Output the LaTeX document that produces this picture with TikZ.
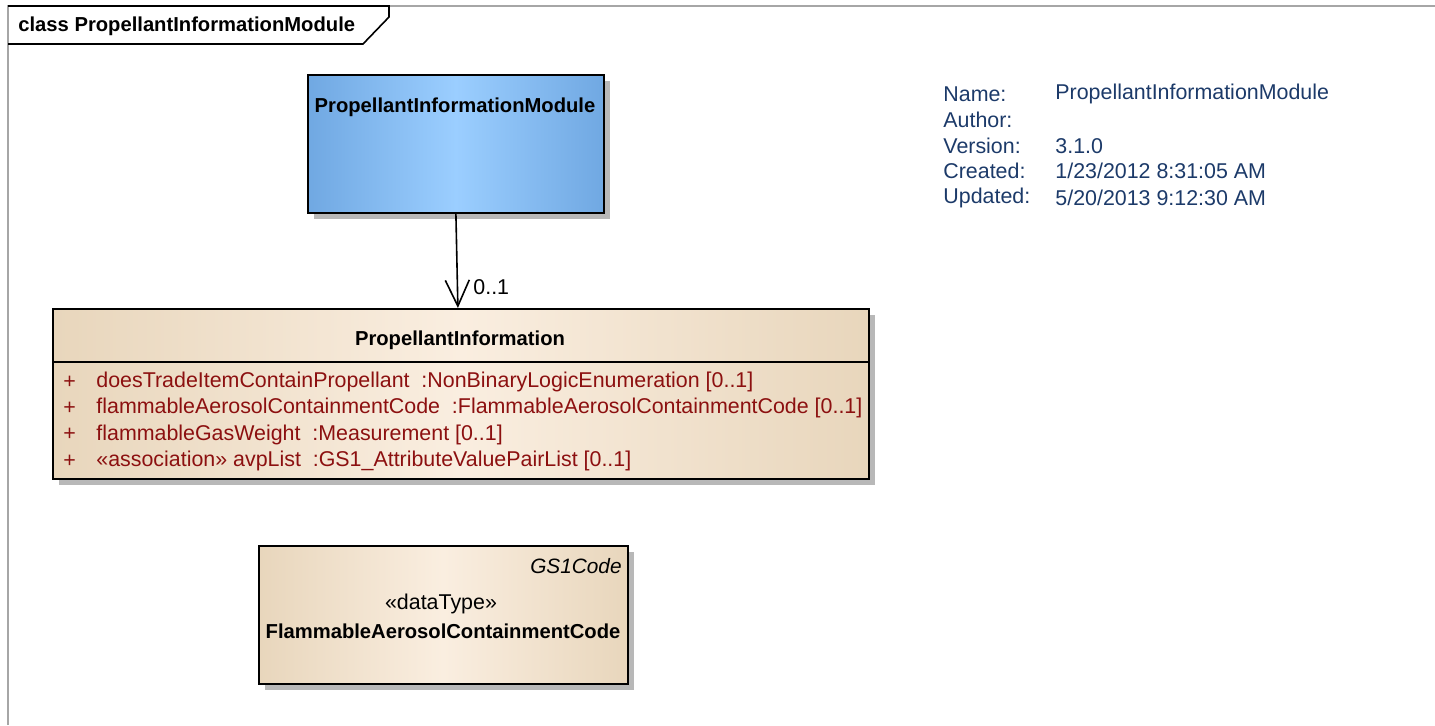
\documentclass[tikz,border=0pt]{standalone}
\usepackage{fontspec}
\setmainfont{Liberation Sans}
\usetikzlibrary{arrows.meta,shadows}

\definecolor{boxblue}{RGB}{112,168,226}
\definecolor{boxbluemid}{RGB}{155,206,255}
\definecolor{beigeedge}{RGB}{232,214,188}
\definecolor{beigemid}{RGB}{250,238,224}
\definecolor{attrred}{RGB}{140,16,16}
\definecolor{notenavy}{RGB}{28,58,105}

\begin{document}
\begin{tikzpicture}[x=0.5pt, y=-0.5pt,
    font=\fontsize{10.7}{12}\selectfont,
    umlbox/.style={draw, line width=0.9pt, inner sep=0pt, anchor=north west,
        drop shadow={shadow xshift=3pt, shadow yshift=-3pt, fill=black!28, opacity=1}},
    bluebox/.style={umlbox, left color=boxblue, right color=boxblue, middle color=boxbluemid},
    beigebox/.style={umlbox, left color=beigeedge, right color=beigeedge, middle color=beigemid},
    classname/.style={font=\fontsize{10.1}{12}\selectfont\bfseries},
    attr/.style={text=attrred, anchor=west, inner sep=0pt},
    note/.style={text=notenavy, anchor=west, inner sep=0pt}]
    \useasboundingbox (0,0) rectangle (1435,725);

    % Diagram frame and tab
    \draw[gray!70, line width=0.8pt] (8,725) -- (8,6) -- (1435,6);
    \draw[line width=0.8pt] (8,6) -- (389,6) -- (389,17) -- (363,44) -- (8,44);
    \node[classname, anchor=west, inner sep=0pt] (frametitle) at (18,26) {class PropellantInformationModule};

    % Module class
    \node[bluebox, minimum width=148pt, minimum height=69pt] (mod) at (307,74) {};
    \node[classname] (modname) at (455,107) {PropellantInformationModule};

    % PropellantInformation class
    \node[beigebox, minimum width=408pt, minimum height=85pt] (info) at (52,308) {};
    \node[classname] (infoname) at (460,340) {PropellantInformation};
    \coordinate (div) at (0,362);
    \draw[line width=0.9pt] (info.west |- div) -- (info.east |- div);

    % Attributes
    \foreach \attrtext [count=\i] in {
        {doesTradeItemContainPropellant~~:NonBinaryLogicEnumeration [0..1]},
        {flammableAerosolContainmentCode~~:FlammableAerosolContainmentCode [0..1]},
        {flammableGasWeight~~:Measurement [0..1]},
        {«association» avpList~~:GS1\_AttributeValuePairList [0..1]}}{
        \node[attr] (plus\i) at (63, 355.7+26.3*\i) {+};
        \node[attr] (attr\i) at (96, 355.7+26.3*\i) {\attrtext};
    }

    % Association
    \draw[-{Straight Barb[length=13pt,width=12pt]}, line width=0.8pt] (mod.south) -- ([xshift=-1.5pt]info.north);
    \node[anchor=west, inner sep=0pt] (mult) at (473,287) {0..1};

    % Data type
    \node[beigebox, minimum width=184.5pt, minimum height=69pt] (dtype) at (258,545) {};
    \node[anchor=east, inner sep=0pt, font=\fontsize{10.4}{12}\selectfont\itshape] (dtypeparent) at (622,566) {GS1Code};
    \node (dtypestereo) at (441,604) {«dataType»};
    \node[classname] (dtypename) at (443,631) {FlammableAerosolContainmentCode};

    % Diagram notes
    \node[note] (namekey) at (943,94) {Name:};
    \node[note] (namevalue) at (1055,94) {PropellantInformationModule};
    \node[note] (authorkey) at (943,120) {Author:};
    \node[note] (versionkey) at (943,146) {Version:};
    \node[note] (versionvalue) at (1055,146) {3.1.0};
    \node[note] (createdkey) at (943,171) {Created:};
    \node[note] (createdvalue) at (1055,171) {1/23/2012 8:31:05 AM};
    \node[note] (updatedkey) at (943,198) {Updated:};
    \node[note] (updatedvalue) at (1055,198) {5/20/2013 9:12:30 AM};
\end{tikzpicture}
\end{document}
